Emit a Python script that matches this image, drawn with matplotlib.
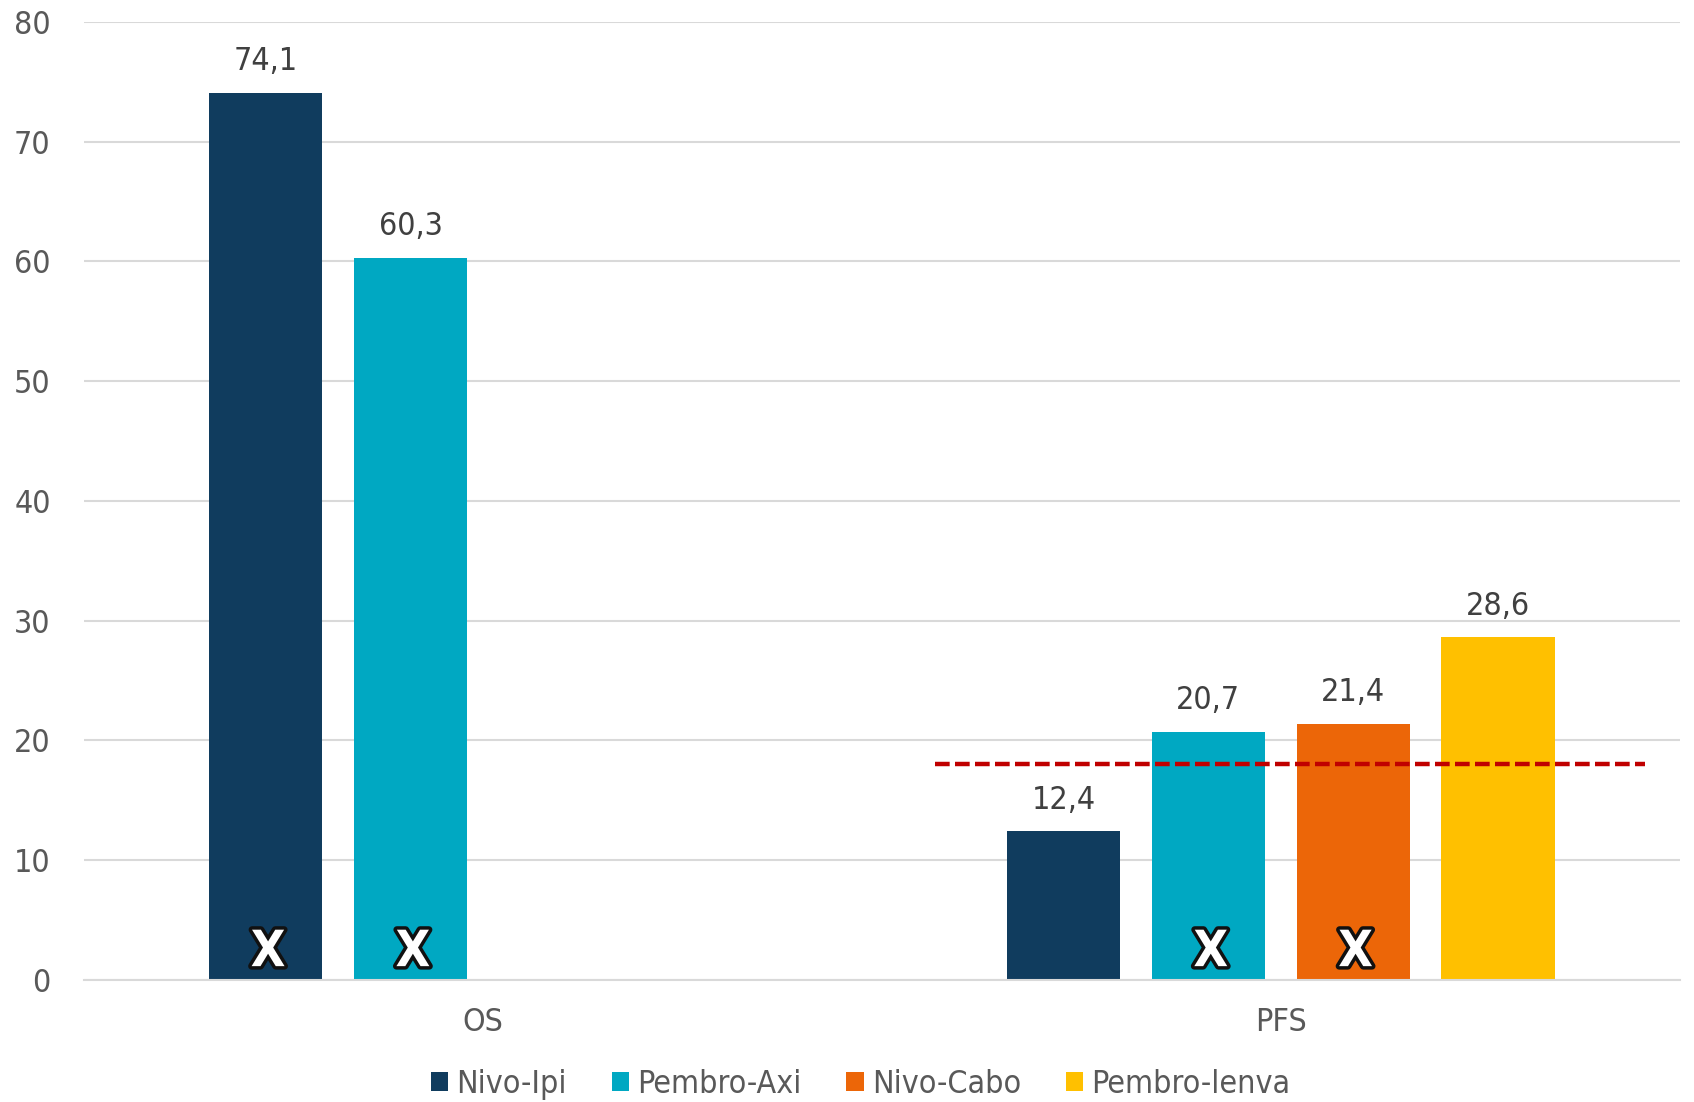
import numpy as np
import matplotlib
matplotlib.use("Agg")
import matplotlib.pyplot as plt
import matplotlib.patheffects as pe
from matplotlib.patches import Patch

# Data
categories = ["OS", "PFS"]
series = ["Nivo-Ipi", "Pembro-Axi", "Nivo-Cabo", "Pembro-lenva"]
values = {
    "Nivo-Ipi": [74.1, 12.4],
    "Pembro-Axi": [60.3, 20.7],
    "Nivo-Cabo": [np.nan, 21.4],
    "Pembro-lenva": [np.nan, 28.6],
}
colors = ["#103C5E", "#00A8C2", "#EC6608", "#FFC000"]
# bars that carry a cross marker: (series, category index)
crossed = [("Nivo-Ipi", 0), ("Pembro-Axi", 0), ("Pembro-Axi", 1), ("Nivo-Cabo", 1)]
ref_level = 18.0
ref_span = (0.567, 1.456)
cross_level = 2.3

plt.rcParams["font.family"] = ["DejaVu Sans"]
plt.rcParams["font.stretch"] = "condensed"

fig = plt.figure(figsize=(16.94, 11.02), dpi=100)
ax = fig.add_axes([0.0496, 0.111, 0.942, 0.869])

x = np.arange(len(categories))
step = 0.1815
width = 0.142
offsets = (np.arange(len(series)) - 1.5) * step

for i, (name, col) in enumerate(zip(series, colors)):
    vals = np.array(values[name], dtype=float)
    pos = x + offsets[i]
    ax.bar(pos, np.nan_to_num(vals), width=width, color=col, zorder=2)
    for p, v in zip(pos, vals):
        if not np.isnan(v):
            ax.text(p, v + 1.3, f"{v:.1f}".replace(".", ","), ha="center", va="bottom",
                    fontsize=23, color="#404040", fontstretch="condensed")

# crosses
for name, ci in crossed:
    si = series.index(name)
    ax.text(x[ci] + offsets[si] + 0.003, cross_level, "X", ha="center", va="center",
            fontsize=36, fontweight="bold", fontstretch="condensed", color="white", zorder=4,
            path_effects=[pe.Stroke(linewidth=5, foreground="#111111"), pe.Normal()])

# reference line
ax.plot(ref_span, [ref_level, ref_level], color="#C00000", linestyle=(0, (3.3, 1.2)),
        linewidth=3.2, zorder=3)

ax.set_xlim(-0.5, 1.5)
ax.set_ylim(0, 80)
ax.set_yticks(np.arange(0, 81, 10))
ax.set_xticks(x)
ax.set_xticklabels(categories)
ax.yaxis.grid(True, color="#D9D9D9", linewidth=1.5, zorder=0)
ax.set_axisbelow(True)
for s in ["top", "right", "left"]:
    ax.spines[s].set_visible(False)
ax.spines["bottom"].set_color("#D9D9D9")
ax.spines["bottom"].set_linewidth(1.5)
ax.tick_params(axis="both", length=0, labelsize=23, labelcolor="#595959")
ax.tick_params(axis="y", pad=24)
ax.tick_params(axis="x", pad=20)

handles = [Patch(facecolor=c, label=n) for n, c in zip(series, colors)]
fig.legend(handles=handles, loc="center", bbox_to_anchor=(0.508, 0.016), ncol=4,
           frameon=False, prop=dict(size=23, stretch="condensed"), labelcolor="#595959",
           handlelength=0.55, handleheight=0.55, handletextpad=0.25, columnspacing=1.4)

fig.savefig("out.png", dpi=100)
